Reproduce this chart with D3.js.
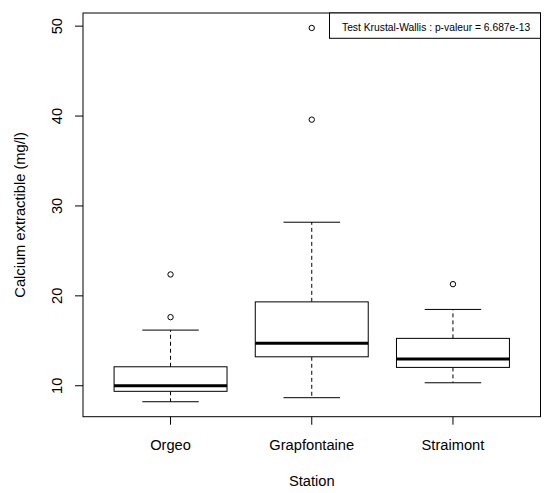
<!DOCTYPE html>
<html>
<head>
<meta charset="utf-8">
<script src="https://cdn.jsdelivr.net/npm/d3@7"></script>
<style>
  body { margin: 0; background: #fff; }
  svg text { font-family: "Liberation Sans", Arial, sans-serif; fill: #000; }
</style>
</head>
<body>
<div id="chart"></div>
<script>
// values
var stations = ["Orgeo", "Grapfontaine", "Straimont"];
var lowerWhisker = [8.22, 8.67, 10.33];
var q1 = [9.38, 13.22, 12.04];
var medians = [10.0, 14.74, 12.97];
var q3 = [12.11, 19.33, 15.27];
var upperWhisker = [16.19, 28.19, 18.49];
var outliers = [[17.63, 22.38], [39.6, 49.8], [21.3]];
var yTicks = [10, 20, 30, 40, 50];
var legendText = "Test Krustal-Wallis : p-valeur = 6.687e-13";

var width = 544, height = 493;
var margin = { top: 13, right: 3.5, bottom: 76.3, left: 83 };
var plotW = width - margin.left - margin.right;
var plotH = height - margin.top - margin.bottom;

var svg = d3.select("#chart")
  .append("svg")
  .attr("width", width)
  .attr("height", height);

var g = svg.append("g")
  .attr("transform", "translate(" + margin.left + "," + margin.top + ")");

// R style range: extend by 4% on each side
var allVals = lowerWhisker.concat(upperWhisker, d3.merge(outliers));
var ymin = d3.min(allVals), ymax = d3.max(allVals);
var ypad = (ymax - ymin) * 0.04;

var x = d3.scaleLinear()
  .domain([0.38, 3.62])
  .range([0, plotW]);

var y = d3.scaleLinear()
  .domain([ymin - ypad, ymax + ypad])
  .range([plotH, 0]);

var boxes = stations.map(function (s, i) {
  return {
    name: s, pos: i + 1,
    lo: lowerWhisker[i], q1: q1[i], med: medians[i], q3: q3[i], hi: upperWhisker[i],
    out: outliers[i]
  };
});

var bg = g.selectAll(".box")
  .data(boxes)
  .enter()
  .append("g")
  .attr("class", "box");

// dashed whiskers
bg.append("line")
  .attr("x1", d => x(d.pos)).attr("x2", d => x(d.pos))
  .attr("y1", d => y(d.q3)).attr("y2", d => y(d.hi))
  .style("stroke", "#000").style("stroke-dasharray", "4,3");
bg.append("line")
  .attr("x1", d => x(d.pos)).attr("x2", d => x(d.pos))
  .attr("y1", d => y(d.q1)).attr("y2", d => y(d.lo))
  .style("stroke", "#000").style("stroke-dasharray", "4,3");

// whisker caps
bg.append("line")
  .attr("x1", d => x(d.pos - 0.2)).attr("x2", d => x(d.pos + 0.2))
  .attr("y1", d => y(d.hi)).attr("y2", d => y(d.hi))
  .style("stroke", "#000");
bg.append("line")
  .attr("x1", d => x(d.pos - 0.2)).attr("x2", d => x(d.pos + 0.2))
  .attr("y1", d => y(d.lo)).attr("y2", d => y(d.lo))
  .style("stroke", "#000");

// box
bg.append("rect")
  .attr("x", d => x(d.pos - 0.4))
  .attr("width", d => x(d.pos + 0.4) - x(d.pos - 0.4))
  .attr("y", d => y(d.q3))
  .attr("height", d => y(d.q1) - y(d.q3))
  .style("fill", "#fff")
  .style("stroke", "#000");

// median
bg.append("line")
  .attr("x1", d => x(d.pos - 0.4)).attr("x2", d => x(d.pos + 0.4))
  .attr("y1", d => y(d.med)).attr("y2", d => y(d.med))
  .style("stroke", "#000").style("stroke-width", 3);

// outliers
bg.selectAll("circle")
  .data(d => d.out.map(v => ({ pos: d.pos, v: v })))
  .enter()
  .append("circle")
  .attr("cx", d => x(d.pos))
  .attr("cy", d => y(d.v))
  .attr("r", 2.7)
  .style("fill", "none")
  .style("stroke", "#000");

// frame
g.append("rect")
  .attr("width", plotW).attr("height", plotH)
  .style("fill", "none").style("stroke", "#000");

// y axis ticks + labels (rotated like R)
g.selectAll(".ytick")
  .data(yTicks)
  .enter()
  .append("line")
  .attr("x1", -8).attr("x2", 0)
  .attr("y1", d => y(d)).attr("y2", d => y(d))
  .style("stroke", "#000");

g.selectAll(".ylab")
  .data(yTicks)
  .enter()
  .append("text")
  .attr("transform", d => "translate(-21.5," + y(d) + ") rotate(-90)")
  .attr("text-anchor", "middle")
  .style("font-size", "14.7px")
  .text(d => d);

// x axis ticks + labels
g.selectAll(".xtick")
  .data(boxes)
  .enter()
  .append("line")
  .attr("x1", d => x(d.pos)).attr("x2", d => x(d.pos))
  .attr("y1", plotH).attr("y2", plotH + 8)
  .style("stroke", "#000");

g.selectAll(".xlab")
  .data(boxes)
  .enter()
  .append("text")
  .attr("x", d => x(d.pos))
  .attr("y", plotH + 33.5)
  .attr("text-anchor", "middle")
  .style("font-size", "14.7px")
  .text(d => d.name);

// axis titles
svg.append("text")
  .attr("x", margin.left + x(2))
  .attr("y", 486)
  .attr("text-anchor", "middle")
  .style("font-size", "14.7px")
  .text("Station");

svg.append("text")
  .attr("transform", "translate(25," + (margin.top + plotH / 2) + ") rotate(-90)")
  .attr("text-anchor", "middle")
  .style("font-size", "14.7px")
  .text("Calcium extractible (mg/l)");

// legend box in top right corner
var legW = 211;
var legH = 25.3;
g.append("rect")
  .attr("x", plotW - legW).attr("y", 0)
  .attr("width", legW).attr("height", legH)
  .style("fill", "#fff").style("stroke", "#000");

g.append("text")
  .attr("x", plotW - legW + 12.5)
  .attr("y", 17.7)
  .style("font-size", "10.3px")
  .text(legendText);
</script>
</body>
</html>
